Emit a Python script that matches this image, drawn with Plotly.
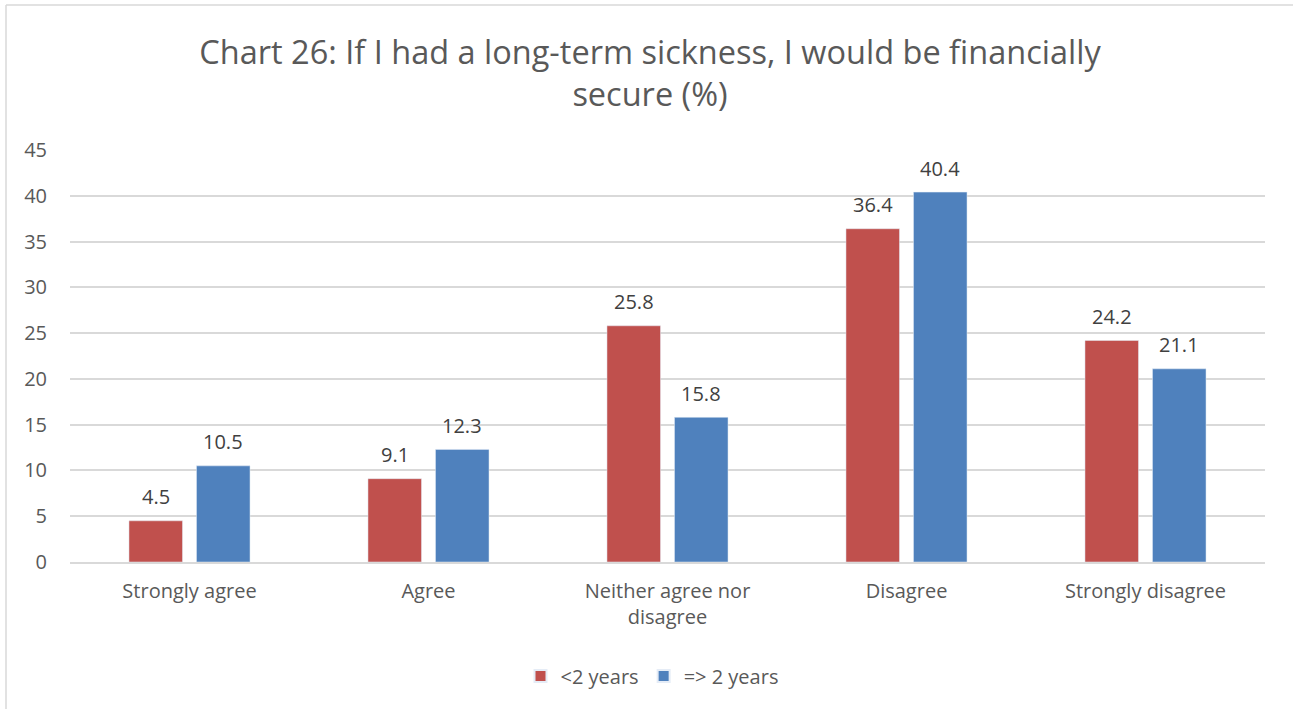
import plotly.graph_objects as go

categories = ["Strongly agree", "Agree", "Neither agree nor<br>disagree", "Disagree", "Strongly disagree"]
under_two_years = [4.5, 9.1, 25.8, 36.4, 24.2]
two_years_plus = [10.5, 12.3, 15.8, 40.4, 21.1]
y_ticks = [0, 5, 10, 15, 20, 25, 30, 35, 40, 45]

W, H = 1293, 709
ML, MR, MT, MB = 70, 28, 150, 147
font_family = "Open Sans, Liberation Sans, sans-serif"
text_grey = "#595959"
label_grey = "#404040"
BARGAP = 0.435
BARGROUPGAP = 0.207

series = [
    ("<2 years", under_two_years, "#C0504D"),
    ("=> 2 years", two_years_plus, "#4F81BD"),
]

fig = go.Figure()
for name, vals, colour in series:
    fig.add_trace(go.Bar(name=name, x=categories, y=vals, marker_color=colour))

pw = W - ML - MR
ph = H - MT - MB

# value labels above each bar, offset to the bar's slot within its group
cat_px = pw / len(categories)
slot_px = cat_px * (1 - BARGAP) / len(series)
for i, (name, vals, colour) in enumerate(series):
    offset = (i - (len(series) - 1) / 2) * slot_px
    for cat, v in zip(categories, vals):
        fig.add_annotation(
            x=cat, y=v, text=f"{v:.1f}", showarrow=False,
            xshift=offset, yshift=24, yanchor="middle",
            font=dict(color=label_grey, size=20, family=font_family),
        )


def px_x(px):
    return (px - ML) / pw


def px_y(py):
    return (H - MB - py) / ph


border = dict(color="#D9D9D9", width=1.5)
fig.add_shape(type="line", xref="paper", yref="paper",
              x0=px_x(6), x1=px_x(6), y0=px_y(5), y1=px_y(H + 5), line=border)
fig.add_shape(type="line", xref="paper", yref="paper",
              x0=px_x(6), x1=px_x(W + 5), y0=px_y(5), y1=px_y(5), line=border)

fig.update_layout(
    width=W, height=H,
    margin=dict(l=ML, r=MR, t=MT, b=MB),
    paper_bgcolor="white", plot_bgcolor="white",
    font=dict(family=font_family, color=text_grey),
    title=dict(
        text="Chart 26: If I had a long-term sickness, I would be financially<br>secure (%)",
        x=650 / W, xref="container", xanchor="center",
        y=1 - 64 / H, yanchor="middle",
        font=dict(size=32.5, color=text_grey, family=font_family),
    ),
    barmode="group",
    bargap=BARGAP,
    bargroupgap=BARGROUPGAP,
    showlegend=True,
    legend=dict(
        orientation="h", x=px_x(652), xanchor="center",
        y=px_y(676), yanchor="middle",
        font=dict(size=20, color=text_grey, family=font_family),
        itemsizing="constant",
    ),
    xaxis=dict(
        showgrid=False, showline=True, linecolor="#D9D9D9", linewidth=1.5,
        ticks="", tickfont=dict(size=20, color=text_grey, family=font_family),
        ticklabelstandoff=10,
    ),
    yaxis=dict(
        range=[0, 45], tickvals=y_ticks, showgrid=True, gridcolor="#D9D9D9", gridwidth=1.5,
        zeroline=False, showline=False, ticks="",
        tickfont=dict(size=20, color=text_grey, family=font_family),
        ticklabelstandoff=22,
    ),
)

fig.write_html("out.html")
